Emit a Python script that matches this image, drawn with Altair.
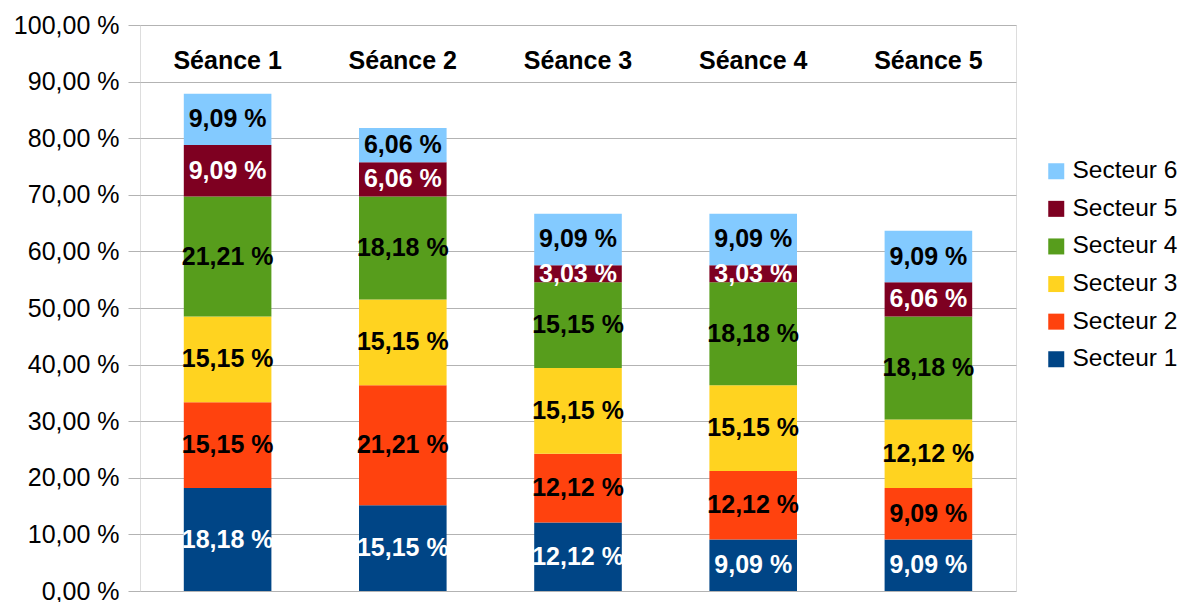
import altair as alt
import pandas as pd

seances = ["Séance 1", "Séance 2", "Séance 3", "Séance 4", "Séance 5"]
secteurs = ["Secteur 1", "Secteur 2", "Secteur 3", "Secteur 4", "Secteur 5", "Secteur 6"]
# values per secteur, one per séance (percent)
secteur1 = [18.18, 15.15, 12.12, 9.09, 9.09]
secteur2 = [15.15, 21.21, 12.12, 12.12, 9.09]
secteur3 = [15.15, 15.15, 15.15, 15.15, 12.12]
secteur4 = [21.21, 18.18, 15.15, 18.18, 18.18]
secteur5 = [9.09, 6.06, 3.03, 3.03, 6.06]
secteur6 = [9.09, 6.06, 9.09, 9.09, 9.09]
colors = ["#004586", "#ff420e", "#ffd320", "#579d1c", "#7e0021", "#83caff"]

series = [secteur1, secteur2, secteur3, secteur4, secteur5, secteur6]
rows = []
for si, (name, vals) in enumerate(zip(secteurs, series)):
    for s, v in zip(seances, vals):
        rows.append({"seance": s, "secteur": name, "order": si, "value": v,
                     "label": f"{v:.2f}".replace(".", ",") + " %"})
df = pd.DataFrame(rows)

FONT = "Liberation Sans"

x_enc = alt.X("seance:N", sort=seances, title=None,
              scale=alt.Scale(paddingInner=0.5, paddingOuter=0.25),
              axis=alt.Axis(orient="top", domain=False, ticks=False, tickSize=0,
                            labelAngle=0, labelFontWeight="bold", labelFontSize=25,
                            labelFont=FONT, labelColor="black", labelBaseline="middle",
                            labelPadding=-35, grid=False))

bars = alt.Chart(df).mark_bar().encode(
    x=x_enc,
    y=alt.Y("value:Q", stack="zero", title=None,
            scale=alt.Scale(domain=[0, 100], nice=False),
            axis=alt.Axis(values=list(range(0, 101, 10)),
                          labelExpr="replace(format(datum.value, '.2f'), '.', ',') + ' %'",
                          labelFontSize=25, labelFont=FONT, labelColor="black",
                          labelPadding=9, tickSize=12, tickColor="#b3b3b3",
                          domain=False, gridColor="#b3b3b3", gridWidth=1)),
    color=alt.Color("secteur:N", title=None,
                    scale=alt.Scale(domain=secteurs[::-1], range=colors[::-1]),
                    legend=alt.Legend(orient="none", legendX=904, legendY=134,
                                      symbolType="square", symbolSize=256,
                                      symbolStrokeWidth=0, labelFontSize=24.5,
                                      labelFont=FONT, labelColor="black",
                                      labelOffset=4, rowPadding=12.6, padding=0)),
    order=alt.Order("order:Q", sort="ascending"),
)

texts = alt.Chart(df).transform_stack(
    stack="value", groupby=["seance"], sort=[alt.SortField("order", "ascending")],
    as_=["y0", "y1"]
).transform_calculate(
    mid="(datum.y0 + datum.y1) / 2"
).mark_text(fontSize=25, fontWeight="bold", font=FONT, baseline="middle").encode(
    x=alt.X("seance:N", sort=seances),
    y=alt.Y("mid:Q"),
    text="label:N",
    color=alt.condition("datum.secteur == 'Secteur 1' || datum.secteur == 'Secteur 5'",
                        alt.value("white"), alt.value("black")),
)

chart = alt.layer(bars, texts).properties(
    width=876, height=566,
    autosize=alt.AutoSizeParams(type="none"),
    padding={"left": 132, "top": 17, "right": 165, "bottom": 11},
).configure_view(stroke="#b3b3b3", strokeWidth=1).configure(background="white")

chart.save("out.html", embed_options={"renderer": "svg", "actions": False})
